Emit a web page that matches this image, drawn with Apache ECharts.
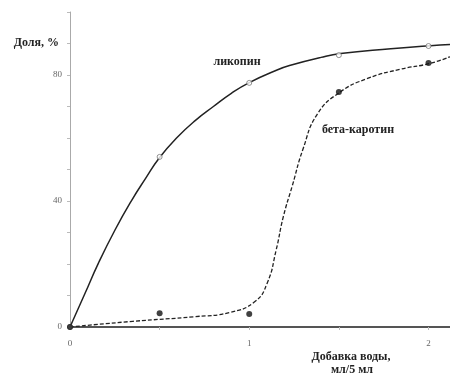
<!DOCTYPE html>
<html>
<head>
<meta charset="utf-8">
<script src="https://cdn.jsdelivr.net/npm/echarts@6/dist/echarts.min.js"></script>
<style>
    html, body { margin: 0; padding: 0; background: #fff; }
    #chart { width: 450px; height: 374px; }
</style>
</head>
<body>
<div id="chart"></div>
<script>
    // измеренные точки
    var lycopenePoints = [[0, 0], [0.5, 54], [1, 77.5], [1.5, 86.3], [2, 89.2]];
    var betaPoints = [[0, 0], [0.5, 4.4], [1, 4.1], [1.5, 74.6], [2, 83.8]];

    // аппроксимирующие кривые
    var lycopeneCurve = [[0, 0], [0.084, 10.7], [0.158, 20.2], [0.251, 30.8], [0.345, 40.3],
        [0.42, 47], [0.5, 53.8], [0.6, 60.3], [0.7, 65.6], [0.8, 70], [0.9, 74.2], [1.0, 77.6],
        [1.155, 81.6], [1.23, 83.1], [1.4, 85.6], [1.51, 86.8], [1.79, 88.3], [2.01, 89.3], [2.12, 89.7]];
    var betaCurve = [[0, 0], [0.35, 1.8], [0.7, 3.3], [0.89, 4.6], [1.03, 8], [1.10, 13.9],
        [1.15, 24.4], [1.19, 35], [1.24, 44.8], [1.30, 56.5], [1.38, 67.6], [1.505, 74.5],
        [1.66, 78.9], [1.84, 81.8], [2.01, 83.7], [2.12, 85.8]];

    var yLabels = [0, 40, 80];
    var xLabels = [0, 1, 2];

    var serif = '"Liberation Serif", "DejaVu Serif", serif';
    var titleFont = 'bold 12px ' + serif;
    var myChart = echarts.init(document.getElementById('chart'));
    var option = {
        animation: false,
        grid: { left: 70, right: 0, top: 12, bottom: 47 },
        xAxis: {
            type: 'value',
            min: 0,
            max: 2.12,
            interval: 0.5,
            splitLine: { show: false },
            axisLine: { lineStyle: { color: '#555', width: 2 } },
            axisTick: { length: 3, lineStyle: { color: '#bbb' } },
            axisLabel: {
                fontFamily: serif, fontSize: 9, color: '#666', margin: 12,
                showMaxLabel: false,
                formatter: function (v) { return xLabels.indexOf(v) >= 0 ? String(v) : ''; }
            }
        },
        yAxis: {
            type: 'value',
            min: 0,
            max: 100,
            interval: 10,
            splitLine: { show: false },
            axisLine: { show: true, lineStyle: { color: '#aaa', width: 1 } },
            axisTick: { length: 3, lineStyle: { color: '#bbb' } },
            axisLabel: {
                fontFamily: serif, fontSize: 9, color: '#666', margin: 8,
                formatter: function (v) { return yLabels.indexOf(v) >= 0 ? String(v) : ''; }
            }
        },
        graphic: [
            { type: 'text', x: 59, y: 43, style: { text: 'Доля, %', font: titleFont, fill: '#222', textAlign: 'right', textVerticalAlign: 'middle' } },
            { type: 'text', x: 237, y: 62, style: { text: 'ликопин', font: titleFont, fill: '#222', textAlign: 'center', textVerticalAlign: 'middle' } },
            { type: 'text', x: 358, y: 130, style: { text: 'бета-каротин', font: titleFont, fill: '#222', textAlign: 'center', textVerticalAlign: 'middle' } },
            { type: 'text', x: 351, y: 357, style: { text: 'Добавка воды,', font: titleFont, fill: '#222', textAlign: 'center', textVerticalAlign: 'middle' } },
            { type: 'text', x: 352, y: 370, style: { text: 'мл/5 мл', font: titleFont, fill: '#222', textAlign: 'center', textVerticalAlign: 'middle' } }
        ],
        series: [
            {
                name: 'ликопин',
                type: 'line',
                data: lycopeneCurve,
                smooth: 0.5,
                showSymbol: false,
                lineStyle: { color: '#222', width: 1.5 },
                z: 2
            },
            {
                name: 'бета-каротин',
                type: 'line',
                data: betaCurve,
                smooth: 0.5,
                showSymbol: false,
                lineStyle: { color: '#222', width: 1.3, type: [4, 2] },
                z: 2
            },
            {
                type: 'scatter',
                data: lycopenePoints,
                symbol: 'circle',
                symbolSize: 5,
                itemStyle: { color: '#fff', borderColor: '#777', borderWidth: 1 },
                z: 3
            },
            {
                type: 'scatter',
                data: betaPoints,
                symbol: 'circle',
                symbolSize: 6,
                itemStyle: { color: '#111' },
                z: 3
            }
        ]
    };
    myChart.setOption(option);
</script>
</body>
</html>
